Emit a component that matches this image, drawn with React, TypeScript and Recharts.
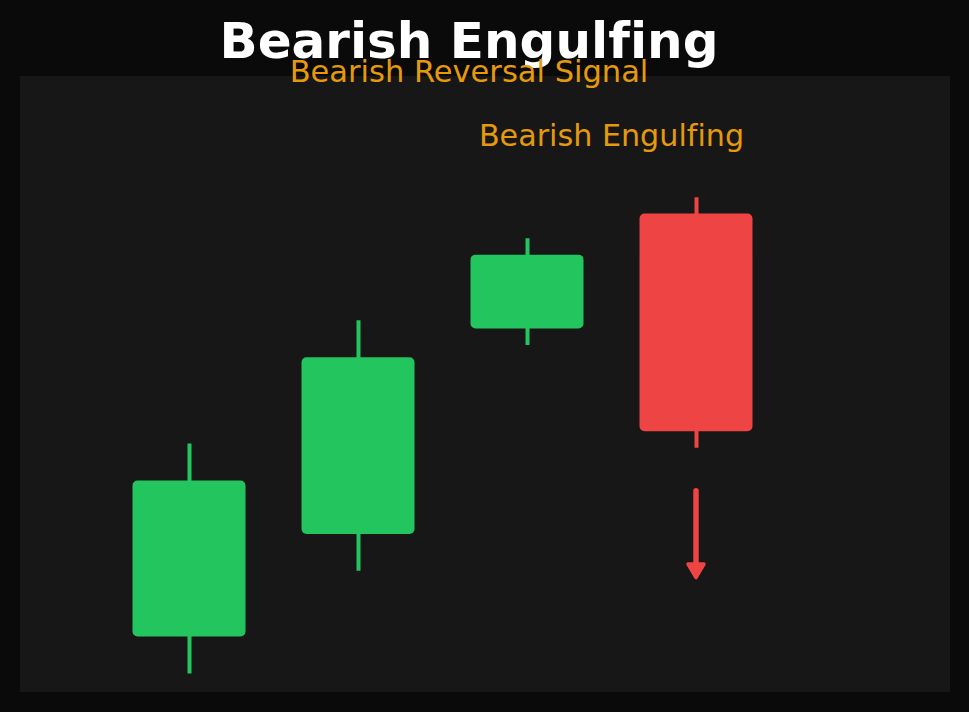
import {
  Bar,
  Cell,
  ComposedChart,
  ReferenceArea,
  ReferenceLine,
  XAxis,
  YAxis,
} from "recharts";

const labels = ["D1", "D2", "D3", "D4"];
const opens = [92.7, 97.7, 107.7, 113.3];
const closes = [100.3, 106.3, 111.3, 102.7];
const highs = [102.1, 108.1, 112.1, 114.1];
const lows = [90.9, 95.9, 106.9, 101.9];

const arrowFrom = 99.8;
const arrowTo = 95.5;
const annotationBand = [116.6, 117.6];

const GREEN = "#22c55e";
const RED = "#ef4444";
const ORANGE = "#e49a0c";
const FONT = "'DejaVu Sans', sans-serif";

const data = labels.map((name, i) => ({
  name,
  wick: [lows[i], highs[i]],
  body: [Math.min(opens[i], closes[i]), Math.max(opens[i], closes[i])],
  up: closes[i] >= opens[i],
}));

// vertical arrow with a rounded triangular head
function Arrow(props: any) {
  const { x1, y1, y2 } = props;
  const head = 15;
  return (
    <g>
      <line
        x1={x1}
        y1={y1}
        x2={x1}
        y2={y2 - head + 2}
        stroke={RED}
        strokeWidth={5.5}
        strokeLinecap="round"
      />
      <polygon
        points={`${x1 - 8},${y2 - head} ${x1 + 8},${y2 - head} ${x1},${y2 - 1.5}`}
        fill={RED}
        stroke={RED}
        strokeWidth={3.5}
        strokeLinejoin="round"
      />
    </g>
  );
}

function Annotation(props: any) {
  const { viewBox } = props;
  if (!viewBox) return null;
  return (
    <text
      x={viewBox.x + viewBox.width / 2}
      y={viewBox.y + viewBox.height / 2 + 10.65}
      textAnchor="middle"
      fill={ORANGE}
      fontSize={30.2}
      fontFamily={FONT}
      style={{ fontVariantLigatures: "none", fontFeatureSettings: '"liga" 0' }}
    >
      Bearish Engulfing
    </text>
  );
}

export default function App() {
  return (
    <div
      style={{
        position: "absolute",
        left: 0,
        top: 0,
        width: 969,
        height: 712,
        background: "#0a0a0a",
        overflow: "hidden",
        fontFamily: FONT,
        fontVariantLigatures: "none",
      }}
    >
      <div
        style={{
          position: "absolute",
          left: 20,
          top: 76,
          width: 930,
          height: 616,
          background: "#171717",
        }}
      />
      <div
        style={{
          position: "absolute",
          left: 0,
          top: 15.7,
          width: 938,
          textAlign: "center",
          fontSize: 50,
          lineHeight: 1,
          fontWeight: "bold",
          color: "#ffffff",
          whiteSpace: "nowrap",
        }}
      >
        Bearish Engulfing
      </div>
      <div
        style={{
          position: "absolute",
          left: 0,
          top: 57.2,
          width: 938,
          textAlign: "center",
          fontSize: 30.5,
          lineHeight: 1,
          color: ORANGE,
          whiteSpace: "nowrap",
        }}
      >
        Bearish Reversal Signal
      </div>
      <div style={{ position: "absolute", left: 0, top: 0 }}>
        <ComposedChart
          width={969}
          height={712}
          data={data}
          margin={{ top: 76, right: 188.5, bottom: 20, left: 104.5 }}
        >
          <XAxis xAxisId="wick" dataKey="name" hide />
          <XAxis xAxisId="body" dataKey="name" hide />
          <YAxis domain={[90, 120]} hide allowDataOverflow />
          <Bar xAxisId="wick" dataKey="wick" barSize={4} isAnimationActive={false}>
            {data.map((d) => (
              <Cell key={d.name} fill={d.up ? GREEN : RED} />
            ))}
          </Bar>
          <Bar
            xAxisId="body"
            dataKey="body"
            barSize={113}
            radius={5}
            isAnimationActive={false}
          >
            {data.map((d) => (
              <Cell key={d.name} fill={d.up ? GREEN : RED} />
            ))}
          </Bar>
          <ReferenceLine
            xAxisId="body"
            segment={[
              { x: "D4", y: arrowFrom },
              { x: "D4", y: arrowTo },
            ]}
            shape={Arrow}
          />
          <ReferenceArea
            xAxisId="body"
            x1="D3"
            x2="D4"
            y1={annotationBand[0]}
            y2={annotationBand[1]}
            fill="none"
            fillOpacity={0}
            stroke="none"
            label={<Annotation />}
          />
        </ComposedChart>
      </div>
    </div>
  );
}
